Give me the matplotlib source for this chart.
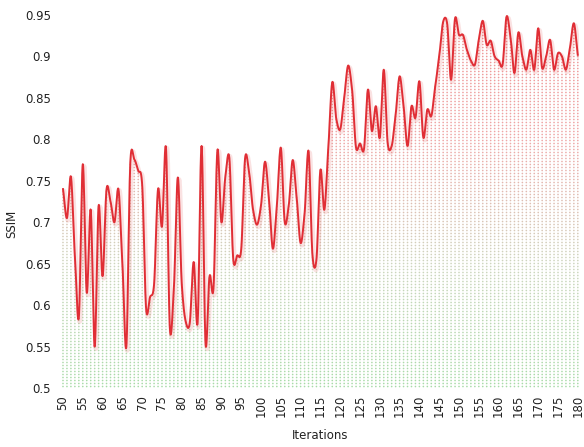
import numpy as np
import matplotlib
matplotlib.use("Agg")
import matplotlib.pyplot as plt
from matplotlib.colors import LinearSegmentedColormap

iterations = list(range(50, 181))
ssim = [
    0.740, 0.705, 0.755, 0.660, 0.585, 0.770, 0.615, 0.715, 0.550, 0.720,  # 50-59
    0.635, 0.740, 0.725, 0.700, 0.740, 0.650, 0.550, 0.772, 0.776, 0.762,  # 60-69
    0.745, 0.595, 0.610, 0.625, 0.740, 0.695, 0.790, 0.571, 0.620, 0.754,  # 70-79
    0.625, 0.580, 0.578, 0.652, 0.579, 0.792, 0.553, 0.635, 0.620, 0.787,  # 80-89
    0.700, 0.755, 0.778, 0.655, 0.660, 0.667, 0.778, 0.760, 0.715, 0.697,  # 90-99
    0.720, 0.773, 0.730, 0.668, 0.720, 0.790, 0.700, 0.720, 0.775, 0.730,  # 100-109
    0.675, 0.710, 0.786, 0.660, 0.655, 0.763, 0.715, 0.790, 0.869, 0.825,  # 110-119
    0.812, 0.850, 0.889, 0.860, 0.790, 0.795, 0.788, 0.860, 0.810, 0.840,  # 120-129
    0.802, 0.884, 0.795, 0.792, 0.830, 0.876, 0.840, 0.792, 0.840, 0.826,  # 130-139
    0.870, 0.802, 0.836, 0.828, 0.864, 0.900, 0.942, 0.940, 0.872, 0.946,  # 140-149
    0.926, 0.926, 0.908, 0.895, 0.890, 0.920, 0.943, 0.914, 0.919, 0.900,  # 150-159
    0.895, 0.890, 0.948, 0.924, 0.880, 0.929, 0.900, 0.884, 0.908, 0.884,  # 160-169
    0.934, 0.886, 0.900, 0.920, 0.884, 0.904, 0.900, 0.884, 0.910, 0.940,  # 170-179
    0.902,                                                                 # 180
]
xticks = list(range(50, 181, 5))
yticks = [0.5, 0.55, 0.6, 0.65, 0.7, 0.75, 0.8, 0.85, 0.9, 0.95]
ytick_labels = ["0.5", "0.55", "0.6", "0.65", "0.7", "0.75", "0.8", "0.85", "0.9", "0.95"]

x = np.array(iterations, dtype=float)
y = np.array(ssim, dtype=float)

# Cardinal spline smoothing (slightly tensioned Catmull-Rom)
def smooth(x, y, n=20, tension=0.85):
    m = np.zeros_like(y)
    m[1:-1] = (y[2:] - y[:-2]) / 2.0 * tension
    m[0] = (y[1] - y[0]) * tension
    m[-1] = (y[-1] - y[-2]) * tension
    xs, ys = [], []
    t = np.linspace(0, 1, n, endpoint=False)
    h00 = 2 * t**3 - 3 * t**2 + 1
    h10 = t**3 - 2 * t**2 + t
    h01 = -2 * t**3 + 3 * t**2
    h11 = t**3 - t**2
    for i in range(len(x) - 1):
        xs.append(x[i] + t * (x[i + 1] - x[i]))
        ys.append(h00 * y[i] + h10 * m[i] + h01 * y[i + 1] + h11 * m[i + 1])
    xs.append([x[-1]])
    ys.append([y[-1]])
    return np.concatenate(xs), np.concatenate(ys)

xs, ys = smooth(x, y)

W, H = 584, 447
left_px, right_px, top_px, bottom_px = 62, 579, 15, 388
fig = plt.figure(figsize=(W / 100, H / 100), dpi=100)
ax = fig.add_axes([left_px / W, 1 - bottom_px / H, (right_px - left_px) / W, (bottom_px - top_px) / H])

ymin, ymax = 0.5, 0.95
cmap = LinearSegmentedColormap.from_list("rg", ["#78c878", "#b4c09c", "#e67878", "#e45858"])

# dotted vertical drop lines coloured by height (one dot every 3 px)
step = 3 * (ymax - ymin) / (bottom_px - top_px)
px, py = [], []
for xi, yi in zip(x, y):
    v = np.arange(ymin + step / 2, yi, step)
    px.append(np.full_like(v, xi))
    py.append(v)
px = np.concatenate(px)
py = np.concatenate(py)
ax.scatter(px, py, s=1.4, marker="o", c=(py - ymin) / (ymax - ymin), cmap=cmap,
           vmin=0, vmax=1, alpha=0.65, linewidths=0, zorder=1)

# line with soft shadow
ax.plot(xs + 0.3, ys - 0.0025, color="#e05050", lw=3.4, alpha=0.16, zorder=2,
        solid_capstyle="round")
ax.plot(xs, ys, color="#e02e35", lw=1.4, zorder=3)

ax.set_xlim(49.75, 180.3)
ax.set_ylim(ymin, ymax)
ax.set_xticks(xticks)
ax.set_xticklabels([str(t) for t in xticks], rotation=90)
ax.set_yticks(yticks)
ax.set_yticklabels(ytick_labels)
ax.tick_params(axis="both", length=0, labelsize=8.5, colors="#222222")
ax.tick_params(axis="y", pad=8)
ax.tick_params(axis="x", pad=5)
for s in ax.spines.values():
    s.set_visible(False)

ax.set_xlabel("Iterations", fontsize=8.5, color="#222222")
ax.set_ylabel("SSIM", fontsize=8.5, color="#222222")
ax.xaxis.set_label_coords(0.5, -0.11)
ax.yaxis.set_label_coords(-0.085, 0.44)

fig.savefig("out.png", dpi=100)
